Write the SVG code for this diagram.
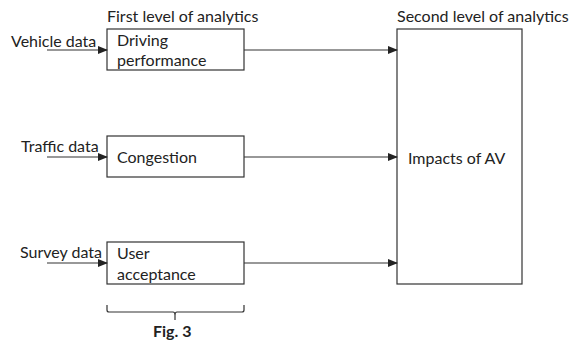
<svg xmlns="http://www.w3.org/2000/svg" width="573" height="344" viewBox="0 0 573 344">
<style>
text{font-family:Lato,"Liberation Sans",Arial,sans-serif;font-size:16px;fill:#222}
.box{fill:#fff;stroke:#333;stroke-width:1.2}
.ln{stroke:#333;stroke-width:1.2;fill:none}
</style>
<defs>
<marker id="ah" markerWidth="10" markerHeight="8" refX="9" refY="4" orient="auto" markerUnits="userSpaceOnUse">
<path d="M0,0 L10,4 L0,8 Z" fill="#222"/>
</marker>
</defs>
<rect width="573" height="344" fill="#fff"/>
<text x="107" y="22">First level of analytics</text>
<text x="397" y="22">Second level of analytics</text>
<g id="vehicle"><text x="11" y="47">Vehicle data</text></g>
<g id="traffic"><text x="21" y="152">Traffic data</text></g>
<g id="survey"><text x="20" y="258">Survey data</text></g>
<g id="driving">
<rect class="box" x="107" y="29" width="137" height="41"/>
<text x="117" y="46">Driving</text>
<text x="117" y="66">performance</text>
</g>
<g id="congestion">
<rect class="box" x="107" y="136" width="137" height="41"/>
<text x="117" y="163">Congestion</text>
</g>
<g id="user">
<rect class="box" x="107" y="242" width="137" height="42"/>
<text x="117" y="259">User</text>
<text x="117" y="280">acceptance</text>
</g>
<g id="impacts">
<rect class="box" x="397" y="29" width="125" height="255"/>
<text x="408" y="164">Impacts of AV</text>
</g>
<g id="connectors">
<line class="ln" x1="47" y1="50" x2="107" y2="50" marker-end="url(#ah)"/>
<line class="ln" x1="47" y1="157" x2="107" y2="157" marker-end="url(#ah)"/>
<line class="ln" x1="47" y1="263" x2="107" y2="263" marker-end="url(#ah)"/>
<line class="ln" x1="244" y1="50" x2="397" y2="50" marker-end="url(#ah)"/>
<line class="ln" x1="244" y1="157" x2="397" y2="157" marker-end="url(#ah)"/>
<line class="ln" x1="244" y1="263" x2="397" y2="263" marker-end="url(#ah)"/>
</g>
<g id="brace">
<path class="ln" d="M107,305 V310 Q107,312 109,312 H173 Q175,312 175,315 V320 M175,315 Q175,312 177,312 H242 Q244,312 244,310 V305" stroke-width="1"/>
</g>
<text x="153" y="337" font-weight="bold">Fig. 3</text>
</svg>
